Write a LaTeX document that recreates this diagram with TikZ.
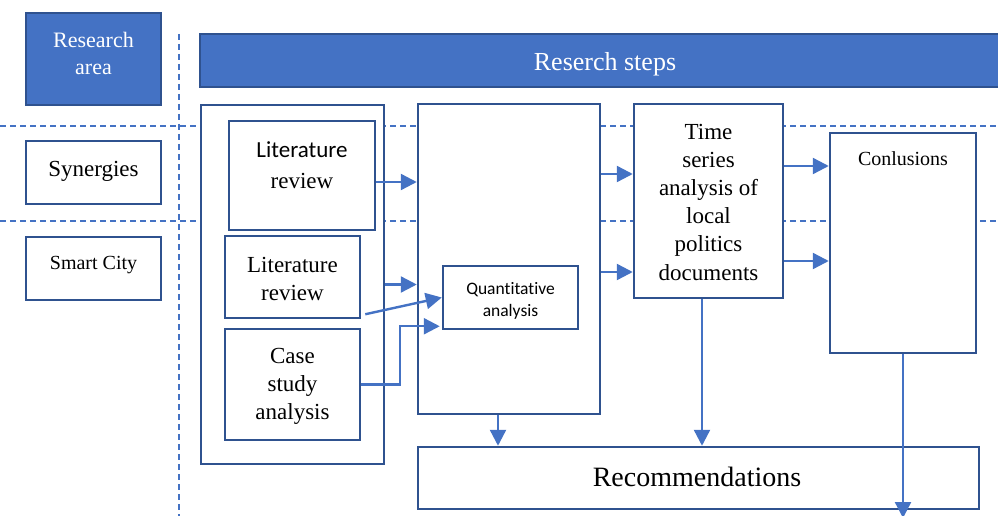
\documentclass[tikz,border=0pt]{standalone}
\usepackage{fontspec}
\setmainfont{Liberation Serif}
\newfontfamily\carlito[Ligatures={NoCommon}]{Carlito}
\usetikzlibrary{arrows.meta,calc}
\definecolor{mblue}{HTML}{4472C4}
\definecolor{dblue}{HTML}{2F528F}
\begin{document}
\begin{tikzpicture}[x=1pt,y=-1pt,
  box/.style={draw=dblue,line width=2.5pt,fill=white,inner sep=0pt},
  fbox/.style={draw=dblue,line width=2.5pt,fill=mblue,inner sep=0pt},
  gridline/.style={draw=mblue,line width=1.15pt,dash pattern=on 6pt off 4pt},
  arr/.style={draw=mblue,line width=2.4pt,-{Triangle[length=16pt,width=16pt]}},
  lbl/.style={align=center,inner sep=0pt}]
\useasboundingbox (0,0) rectangle (998,516);
% dashed guide lines
\draw[gridline] (0,126) coordinate (h1a) -- (998,126) coordinate (h1b);
\draw[gridline] (0,221) coordinate (h2a) -- (998,221) coordinate (h2b);
\draw[gridline] (179,34) coordinate (v1a) -- (179,516) coordinate (v1b);
% left column
\node[fbox,minimum width=135pt,minimum height=92pt] (ra) at (93.5,59) {};
\node[lbl,text=white,font=\fontsize{22}{27}\selectfont] (rat) at (93.5,53) {Research\\area};
\node[box,minimum width=135pt,minimum height=63pt] (syn) at (93.5,172.5) {};
\node[lbl,font=\fontsize{23}{28}\selectfont] (synt) at (93.5,171) {Synergies};
\node[box,minimum width=135pt,minimum height=63pt] (sc) at (93.5,268.5) {};
\node[lbl,font=\fontsize{20}{24}\selectfont] (sct) at (93.5,265) {Smart City};
% header bar
\node[fbox,minimum width=810pt,minimum height=53pt] (rs) at (605,60.5) {};
\node[lbl,text=white,font=\fontsize{26}{30}\selectfont] (rst) at (605,64) {Reserch steps};
% outer left box and its content
\node[box,minimum width=183pt,minimum height=359pt] (outer) at (292.5,284.5) {};
\node[box,minimum width=146pt,minimum height=109pt] (lr1) at (302,175.5) {};
\node[lbl,font=\fontsize{23}{31}\selectfont] (lr1t) at (302,165) {{\carlito Literature}\\review};
\node[box,minimum width=135pt,minimum height=82pt] (lr2) at (292.5,277) {};
\node[lbl,font=\fontsize{23}{28}\selectfont] (lr2t) at (292.5,279) {Literature\\review};
\node[box,minimum width=135pt,minimum height=111pt] (cs) at (292.5,384.5) {};
\node[lbl,font=\fontsize{23}{28}\selectfont] (cst) at (292.5,386) {Case\\study\\analysis};
% middle
\node[box,minimum width=182pt,minimum height=310pt] (mid) at (509,259) {};
\node[box,minimum width=135pt,minimum height=63pt] (qa) at (510.5,297.5) {};
\node[lbl,font=\carlito\fontsize{17.5}{22}\selectfont] (qat) at (510.5,301) {Quantitative\\analysis};
% time series
\node[box,minimum width=149pt,minimum height=194pt] (ts) at (708.5,201) {};
\node[lbl,font=\fontsize{23}{28.2}\selectfont] (tst) at (708.5,202) {Time\\series\\analysis of\\local\\politics\\documents};
% conclusions
\node[box,minimum width=146pt,minimum height=220pt] (con) at (903,243) {};
\node[lbl,font=\fontsize{20}{24}\selectfont] (cont) at (903,159) {Conlusions};
% recommendations
\node[box,minimum width=561pt,minimum height=62pt] (rec) at (698.5,478) {};
\node[lbl,font=\fontsize{28}{32}\selectfont] (rect) at (697,477) {Recommendations};
% arrows
\coordinate (a1) at ([yshift=-6.5pt]lr1.east);
\draw[arr] (a1) -- (a1 -| mid.west);
\draw[arr] (outer.east) -- (outer.east -| mid.west);
\draw[arr] ([xshift=4pt,yshift=5pt]lr2.south east) -- (qa.west);
\coordinate (c1) at (400,384.5);
\coordinate (c2) at ([yshift=4pt]qa.south west);
\draw[arr] (cs.east) -- (c1) -- (c1 |- c2) -- ([xshift=-2pt]c2);
\coordinate (m1) at ([xshift=-11pt]mid.south);
\draw[arr] (m1) -- (m1 |- rec.north);
\coordinate (m2) at ([yshift=85pt]mid.east);
\draw[arr] (m2) -- (m2 -| ts.west);
\coordinate (m3) at ([yshift=-13pt]mid.east);
\draw[arr] (m3) -- (m3 -| ts.west);
\coordinate (t1) at ([yshift=35pt]ts.east);
\draw[arr] (t1) -- (t1 -| con.west);
\coordinate (t2) at ([yshift=-60pt]ts.east);
\draw[arr] (t2) -- (t2 -| con.west);
\coordinate (t3) at ([xshift=-6.5pt]ts.south);
\draw[arr] (t3) -- (t3 |- rec.north);
\coordinate (cend) at (903,518);
\draw[arr] (con.south) -- (cend);
\end{tikzpicture}
\end{document}
